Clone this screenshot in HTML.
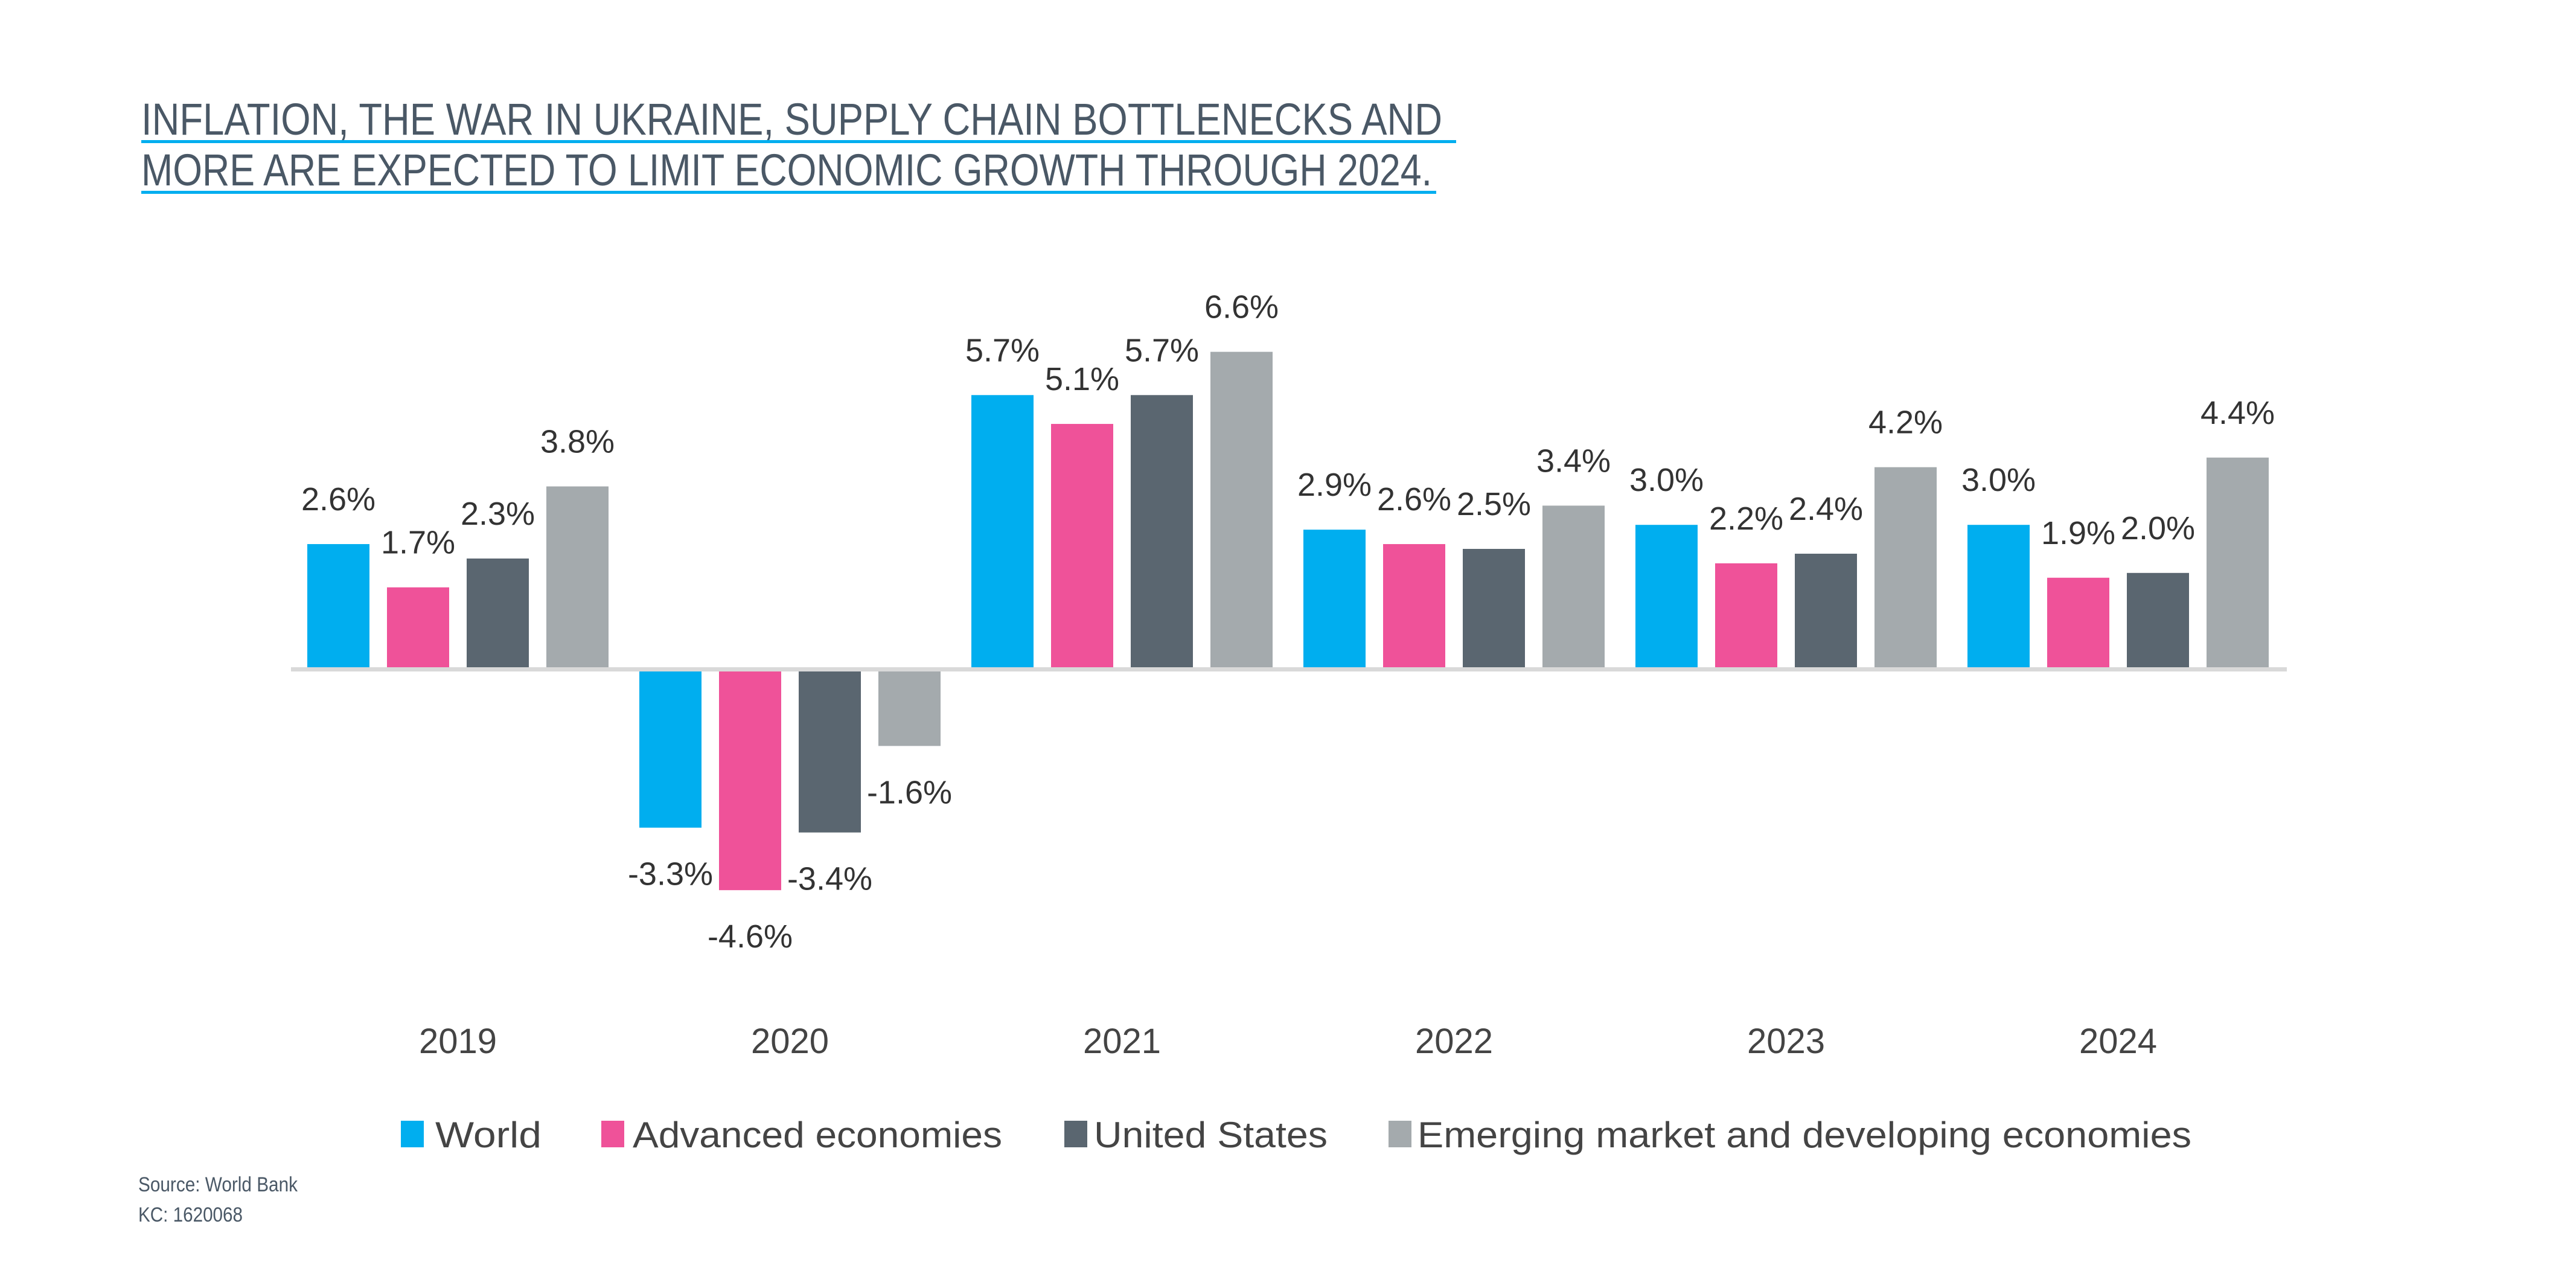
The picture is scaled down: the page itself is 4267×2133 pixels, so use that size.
<!DOCTYPE html>
<html><head><meta charset="utf-8"><style>
html,body{margin:0;padding:0;background:#fff;}
svg{display:block;font-family:"Liberation Sans Narrow","Liberation Sans",sans-serif;}
</style></head><body>
<svg id="chart" width="4267" height="2133" viewBox="0 0 4267 2133">
<g>
<text x="234" y="223" font-size="74" fill="#4a5866" textLength="2155" lengthAdjust="spacingAndGlyphs">INFLATION, THE WAR IN UKRAINE, SUPPLY CHAIN BOTTLENECKS AND</text>
<rect x="234" y="232" width="2178" height="5" fill="#00aeef"/>
<text x="234" y="307" font-size="74" fill="#4a5866" textLength="2138" lengthAdjust="spacingAndGlyphs">MORE ARE EXPECTED TO LIMIT ECONOMIC GROWTH THROUGH 2024.</text>
<rect x="234" y="316" width="2145" height="5" fill="#00aeef"/>
</g>
<g id="bars"></g>
<rect x="482" y="1105" width="3306" height="7" fill="#d9d9d9"/>
<g id="labels"></g>
<g id="xaxis"></g>
<g id="legend"></g>
<text x="229" y="1973" font-size="34" fill="#4a5866" font-family="Liberation Sans, sans-serif" textLength="264" lengthAdjust="spacingAndGlyphs">Source: World Bank</text>
<text x="229" y="2023" font-size="34" fill="#4a5866" font-family="Liberation Sans, sans-serif" textLength="173" lengthAdjust="spacingAndGlyphs">KC: 1620068</text>
</svg>
<script>
const years = ["2019","2020","2021","2022","2023","2024"];
const seriesNames = ["World","Advanced economies","United States","Emerging market and developing economies"];
const world = [2.6,-3.3,5.7,2.9,3.0,3.0];
const advanced = [1.7,-4.6,5.1,2.6,2.2,1.9];
const unitedStates = [2.3,-3.4,5.7,2.5,2.4,2.0];
const emerging = [3.8,-1.6,6.6,3.4,4.2,4.4];

const colors = ["#00aeef","#ef5299","#5a6670","#a4aaad"];
const series = [world, advanced, unitedStates, emerging];
const NS = "http://www.w3.org/2000/svg";
const baseY = 1108, pxPer = 79.6;
const groupX0 = 509, groupPitch = 550, barPitch = 132, barW = 103;
function yScale(v){ return baseY - v*pxPer; }
function xBar(g,s){ return groupX0 + g*groupPitch + s*barPitch; }
function mk(tag, attrs, parent){ const e=document.createElementNS(NS,tag); for(const k in attrs) e.setAttribute(k,attrs[k]); parent.appendChild(e); return e; }
const barsG=document.getElementById('bars'), labG=document.getElementById('labels'), xG=document.getElementById('xaxis'), legG=document.getElementById('legend');
series.forEach((vals,s)=>{
  vals.forEach((v,g)=>{
    const x=xBar(g,s), y0=yScale(Math.max(v,0)), h=Math.abs(v)*pxPer;
    const r=mk('rect',{x:x,y:v>=0?y0:baseY+4,width:barW,height:v>=0?h-3:h-4,fill:colors[s]},barsG);
    
    
    const ty = v>=0 ? yScale(v)-56 : yScale(v)+95;
    const t=mk('text',{x:x+barW/2,y:ty,'font-size':54,fill:'#333','text-anchor':'middle','font-family':'Liberation Sans, sans-serif'},labG);
    t.textContent=v.toFixed(1)+'%';
    
    
  });
});
years.forEach((yr,g)=>{
  const t=mk('text',{x:xBar(g,0)+(3*barPitch+barW)/2,y:1744,'font-size':58,fill:'#444','text-anchor':'middle','font-family':'Liberation Sans, sans-serif'},xG);
  t.textContent=yr;
  
  
});
const legSq=[664,996,1763,2300], legTx=[721,1048,1812,2348], legW=[176,612,387,1282];
seriesNames.forEach((n,i)=>{
  const r=mk('rect',{x:legSq[i],y:1856,width:38,height:44,fill:colors[i]},legG);
  
  
  const t=mk('text',{x:legTx[i],y:1900,'font-size':60,fill:'#444',textLength:legW[i],lengthAdjust:'spacingAndGlyphs','font-family':'Liberation Sans, sans-serif'},legG);
  t.textContent=n;
  
  
});
</script>
</body></html>
